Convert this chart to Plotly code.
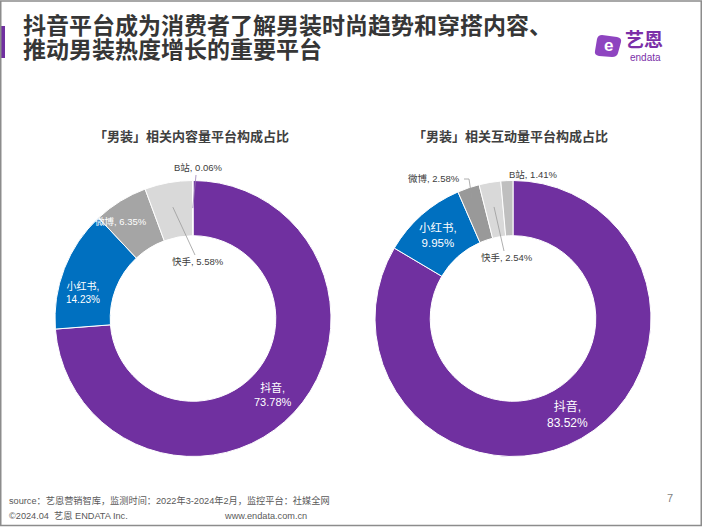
import math
import plotly.graph_objects as go

W, H = 702, 527

platforms = ["抖音", "小红书", "微博", "快手", "B站"]
content_share = [73.78, 14.23, 6.35, 5.58, 0.06]
interact_share = [83.52, 9.95, 2.58, 2.54, 1.41]

title_lines = ["抖音平台成为消费者了解男装时尚趋势和穿搭内容、", "推动男装热度增长的重要平台"]
sub_titles = ["「男装」相关内容量平台构成占比", "「男装」相关互动量平台构成占比"]
source_text = "source：艺恩营销智库，监测时间：2022年3-2024年2月，监控平台：社媒全网"
copyright_text = "©2024.04  艺恩 ENDATA Inc."
site_text = "www.endata.com.cn"
page_no = "7"

left_colors = ["#7030A0", "#0070C0", "#A5A5A5", "#D9D9D9", "#BFBFBF"]
right_colors = ["#7030A0", "#0070C0", "#999999", "#D9D9D9", "#BFBFBF"]

FONT = "Liberation Sans, Arial, Noto Sans CJK SC, sans-serif"


def X(px):
    return px / W


def Y(py):
    return 1 - py / H


# donut geometry in pixels
LC = (193, 318.5)
RC = (513, 318.5)
R = 138
HOLE = 0.6


def dom(c):
    return dict(x=[X(c[0] - R), X(c[0] + R)], y=[Y(c[1] + R), Y(c[1] - R)])


def mid_point(center, vals, idx, rfac):
    tot = sum(vals)
    start = sum(vals[:idx])
    frac = (start + vals[idx] / 2) / tot
    a = 2 * math.pi * frac
    r = R * rfac
    return center[0] + r * math.sin(a), center[1] - r * math.cos(a)


fig = go.Figure()
fig.add_trace(go.Pie(labels=platforms, values=content_share, hole=HOLE, sort=False,
                     direction="clockwise", rotation=0, textinfo="none",
                     marker=dict(colors=left_colors, line=dict(color="white", width=1)),
                     domain=dom(LC), showlegend=False, hoverinfo="label+percent"))
fig.add_trace(go.Pie(labels=platforms, values=interact_share, hole=HOLE, sort=False,
                     direction="clockwise", rotation=0, textinfo="none",
                     marker=dict(colors=right_colors, line=dict(color="white", width=1)),
                     domain=dom(RC), showlegend=False, hoverinfo="label+percent"))

ann = []
shapes = []


def text(px, py, s, size, color="#404040", bold=False, xanchor="center", family=FONT):
    if bold:
        s = "<b>" + s + "</b>"
    ann.append(dict(x=X(px), y=Y(py), xref="paper", yref="paper", text=s, showarrow=False,
                    xanchor=xanchor, yanchor="middle", align="center",
                    font=dict(size=size, color=color, family=family)))


def lbl(name, v):
    return f"{name}, {v:.2f}%"


def lbl2(name, v):
    return f"{name},<br>{v:.2f}%"


# title
shapes.append(dict(type="rect", xref="paper", yref="paper", x0=X(0), x1=X(5), y0=Y(58), y1=Y(26),
                   fillcolor="#7030A0", line=dict(width=0)))
text(21, 26, title_lines[0], 23, "#363636", bold=True, xanchor="left")
text(21, 50, title_lines[1], 23, "#363636", bold=True, xanchor="left")

# logo
shapes.append(dict(type="path", xref="paper", yref="paper",
                   path=f"M {X(602)},{Y(35)} L {X(617)},{Y(37)} Q {X(622)},{Y(38)} {X(621)},{Y(42)} "
                        f"L {X(618)},{Y(53)} Q {X(617)},{Y(57)} {X(612)},{Y(57)} L {X(599)},{Y(56)} "
                        f"Q {X(594)},{Y(55)} {X(595)},{Y(51)} L {X(597)},{Y(39)} Q {X(598)},{Y(35)} {X(602)},{Y(35)} Z",
                   fillcolor="#8E44C0", line=dict(width=0)))
text(608, 45.5, "e", 17, "white", bold=True)
text(644, 40, "艺恩", 19, "#7B2FA8", bold=True)
text(645, 57, "endata", 10, "#7B2FA8")

# subtitles
text(191, 136, sub_titles[0], 13, "#404040", bold=True)
text(510, 136, sub_titles[1], 13, "#404040", bold=True)

# left donut labels
text(273, 394, lbl2(platforms[0], content_share[0]), 11, "white")
text(83, 292, lbl2(platforms[1], content_share[1]), 10, "white")
text(121, 221, lbl(platforms[2], content_share[2]), 9.5, "white")
text(198, 262, lbl(platforms[3], content_share[3]), 9.5)
text(198, 167, lbl(platforms[4], content_share[4]), 9.5)

# right donut labels
text(567, 414, lbl2(platforms[0], interact_share[0]), 12, "white")
text(438, 236, lbl2(platforms[1], interact_share[1]), 11.5, "white")
text(434, 179, lbl(platforms[2], interact_share[2]), 9.5)
text(507, 257, lbl(platforms[3], interact_share[3]), 9.5)
text(533, 174, lbl(platforms[4], interact_share[4]), 9.5)

LINE = dict(color="#9a9a9a", width=0.8)


def seg(p0, p1, color="#9a9a9a"):
    shapes.append(dict(type="line", xref="paper", yref="paper", x0=X(p0[0]), y0=Y(p0[1]),
                       x1=X(p1[0]), y1=Y(p1[1]), line=dict(color=color, width=0.8)))


# leader lines (left)
seg((196, 175), mid_point(LC, content_share, 4, 0.8), "#9b7fb5")
seg(mid_point(LC, content_share, 3, 0.82), (195, 255))
# leader lines (right)
wp = mid_point(RC, interact_share, 2, 0.92)
seg((464, 179), (469, 179))
seg((469, 179), wp)
seg(mid_point(RC, interact_share, 3, 0.82), (504, 251))

# footer
text(7, 500, source_text, 9.2, "#595959", xanchor="left")
text(7, 516, copyright_text, 9.2, "#595959", xanchor="left")
text(222, 516, site_text, 9.2, "#595959", xanchor="left")
text(670, 498, page_no, 11, "#7f7f7f")

# frame
shapes.append(dict(type="rect", xref="paper", yref="paper", x0=X(0.75), x1=X(701.25), y0=Y(525.5), y1=Y(1),
                   line=dict(color="#8c8c8c", width=1.5), fillcolor="rgba(0,0,0,0)"))

fig.update_layout(width=W, height=H, margin=dict(l=0, r=0, t=0, b=0),
                  paper_bgcolor="white", plot_bgcolor="white",
                  annotations=ann, shapes=shapes, font=dict(family=FONT))

fig.write_html("out.html", config={"displayModeBar": False},
               post_script="document.body.style.margin='0px';document.body.style.padding='0px';document.body.style.overflow='hidden';")
